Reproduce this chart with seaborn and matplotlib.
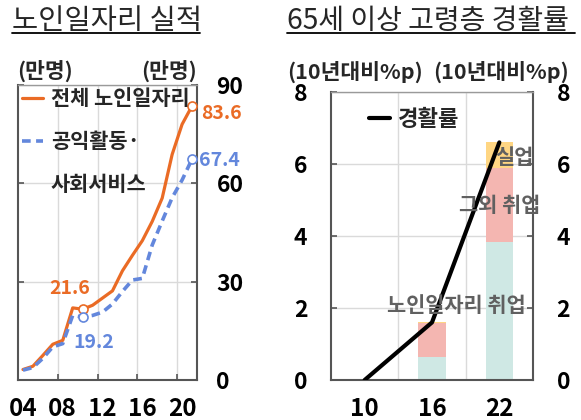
import matplotlib
matplotlib.use("Agg")
import matplotlib.pyplot as plt
from matplotlib.lines import Line2D
import pandas as pd
import seaborn as sns

# ---- data -----------------------------------------------------------------
years = [f"{y:02d}" for y in range(4, 22)]           # 2004 .. 2021
year_ticks = ["04", "08", "12", "16", "20"]
total_jobs = [3.2, 4.2, 7.5, 10.9, 12.1, 22.0, 21.6, 22.8, 25.0, 27.2,
              33.3, 38.0, 42.5, 48.4, 55.5, 68.8, 78.0, 83.6]
public_jobs = [3.0, 3.8, 6.6, 10.1, 11.1, 19.7, 19.2, 19.7, 20.7, 23.2,
               27.0, 30.5, 31.0, 41.2, 48.5, 55.6, 61.0, 67.4]

periods = ["10", "16", "22"]
senior_jobs = [0.0, 0.63, 3.84]      # 노인일자리 취업
other_jobs = [0.0, 0.94, 2.06]       # 그외 취업
unemployed = [0.0, 0.03, 0.70]       # 실업
participation = [0.0, 1.6, 6.6]      # 경활률 (10년대비 %p)

# ---- style ----------------------------------------------------------------
sns.set_theme(style="white")
plt.rcParams["font.family"] = ["Noto Sans CJK KR", "DejaVu Sans"]
plt.rcParams["axes.unicode_minus"] = False

ORANGE = "#EA6B25"
BLUE = "#6387DC"
TEAL = "#CFE8E4"
PINK = "#F4B6B1"
YELLOW = "#FFD683"
GRID = "#DADADA"
SPINE = "#555555"
NOTE = "#606060"

W, H = 581, 420
fig = plt.figure(figsize=(W / 100, H / 100), dpi=100)


def fx(px):
    return px / W


def fy(py):
    return 1 - py / H


ax1 = fig.add_axes([fx(18), fy(380), fx(197) - fx(18), fy(85) - fy(380)])
ax2 = fig.add_axes([fx(331), fy(380), fx(533) - fx(331), fy(92) - fy(380)])

# ---- left panel: 노인일자리 실적 --------------------------------------------
jobs = pd.DataFrame({"pos": range(len(years)), "total": total_jobs,
                     "public": public_jobs})
sns.lineplot(data=jobs, x="pos", y="total", ax=ax1, color=ORANGE,
             linewidth=2.3, zorder=3)
sns.lineplot(data=jobs, x="pos", y="public", ax=ax1, color=BLUE,
             linewidth=2.6, dashes=False, zorder=3)
ax1.lines[-1].set_dashes((2.4, 1.5))

for series, col, idx in [(total_jobs, ORANGE, 6), (total_jobs, ORANGE, 17),
                         (public_jobs, BLUE, 6), (public_jobs, BLUE, 17)]:
    ax1.plot(idx, series[idx], "o", ms=6.5, mfc="white", mec=col, mew=1.2,
             zorder=4)

lab_kw = dict(textcoords="offset pixels", fontsize=14, fontweight="bold")
ax1.annotate(f"{total_jobs[6]}", (6, total_jobs[6]), xytext=(-13, 21),
             ha="center", va="center", color=ORANGE, **lab_kw)
ax1.annotate(f"{public_jobs[6]}", (6, public_jobs[6]), xytext=(11, -25),
             ha="center", va="center", color=BLUE, **lab_kw)
ax1.annotate(f"{total_jobs[17]}", (17, total_jobs[17]), xytext=(9, -8),
             ha="left", va="center", color=ORANGE, **lab_kw)
ax1.annotate(f"{public_jobs[17]}", (17, public_jobs[17]), xytext=(7, -1),
             ha="left", va="center", color=BLUE, **lab_kw)

ax1.set_xlim(-0.5, len(years) - 0.5)
ax1.set_ylim(0, 90)
ax1.set_xticks([years.index(t) for t in year_ticks])
ax1.set_xticklabels(year_ticks)
ax1.set_xticks([3.5, 7.5, 11.5, 15.5], minor=True)
ax1.set_yticks([0, 30, 60, 90])
ax1.set_xlabel("")
ax1.set_ylabel("")
ax1.tick_params(axis="x", which="major", length=0, pad=12, labelsize=17.5)
ax1.tick_params(axis="x", which="minor", direction="in", length=4,
                color=SPINE, width=1.2, bottom=True)
ax1.tick_params(axis="y", which="major", direction="in", length=4,
                color=SPINE, width=1.2, left=True, right=True,
                labelleft=False, labelright=True, pad=14, labelsize=16.5)
ax1.grid(axis="x", which="minor", color=GRID, lw=1)
ax1.grid(axis="y", which="major", color=GRID, lw=1)
ax1.set_axisbelow(True)

h1 = Line2D([], [], color=ORANGE, lw=2.3)
h2 = Line2D([], [], color=BLUE, lw=2.6, dashes=(2.4, 1.5))
h3 = Line2D([], [], color="none")
ax1.legend([h1, h2, h3], ["전체 노인일자리", "공익활동·", "사회서비스"],
           loc="upper left", bbox_to_anchor=(0.02, 0.99), frameon=False,
           handlelength=1.05, handletextpad=0.35,
           labelspacing=1.05, borderaxespad=0, borderpad=0,
           prop={"weight": "bold", "size": 15})

# ---- right panel: 65세 이상 고령층 경활률 ------------------------------------
cum3 = [a + b + c for a, b, c in zip(senior_jobs, other_jobs, unemployed)]
cum2 = [a + b for a, b in zip(senior_jobs, other_jobs)]
for vals, col in [(cum3, YELLOW), (cum2, PINK), (senior_jobs, TEAL)]:
    sns.barplot(x=periods, y=vals, ax=ax2, color=col, width=0.41,
                linewidth=0, saturation=1, zorder=2)

sns.lineplot(x=range(len(periods)), y=participation, ax=ax2, color="black",
             linewidth=3.0, zorder=4, label="경활률")

note_kw = dict(color=NOTE, fontsize=15, fontweight="bold", ha="center",
               va="center", zorder=5)
ax2.text(1.36, 2.08, "노인일자리 취업", **note_kw)
ax2.text(2.0, 4.86, "그외 취업", **note_kw)
ax2.text(2.23, 6.19, "실업", **note_kw)

ax2.set_xlim(-0.5, 2.5)
ax2.set_ylim(0, 8)
ax2.set_yticks([0, 2, 4, 6, 8])
ax2.set_xticks([0.5, 1.5], minor=True)
ax2.set_xlabel("")
ax2.set_ylabel("")
ax2.tick_params(axis="x", which="major", length=0, pad=12, labelsize=17.5)
ax2.tick_params(axis="x", which="minor", length=0)
ax2.tick_params(axis="y", which="major", direction="in", length=4,
                color=SPINE, width=1.2, left=True, right=True,
                labelleft=True, labelright=True, pad=17, labelsize=16.5)
ax2.grid(axis="x", which="minor", color=GRID, lw=1)
ax2.grid(axis="y", which="major", color=GRID, lw=1)
ax2.set_axisbelow(True)
ax2.legend(loc="upper left", bbox_to_anchor=(0.19, 0.945), frameon=False,
           handlelength=0.95, handletextpad=0.35, borderaxespad=0,
           borderpad=0, prop={"weight": "bold", "size": 16})

for ax in (ax1, ax2):
    for side in ("left", "right", "bottom"):
        ax.spines[side].set_color(SPINE)
        ax.spines[side].set_linewidth(1.5)
    ax.spines["top"].set_color("#9A9A9A")
    ax.spines["top"].set_linewidth(1.0)
    for lbl in ax.get_xticklabels() + ax.get_yticklabels():
        lbl.set_fontweight("bold")
        lbl.set_color("black")

# ---- titles and units ------------------------------------------------------
fig.text(fx(12), fy(21), "노인일자리 실적", fontsize=20.5, ha="left",
         va="center", fontweight="medium")
fig.add_artist(Line2D([fx(12), fx(200)], [fy(32.5), fy(32.5)],
                      color="black", lw=1.3))
fig.text(fx(287), fy(21), "65세 이상 고령층 경활률", fontsize=20.2,
         ha="left", va="center", fontweight="medium")
fig.add_artist(Line2D([fx(287), fx(575)], [fy(32.5), fy(32.5)],
                      color="black", lw=1.3))

unit_kw = dict(fontsize=15.5, fontweight="bold", va="center")
fig.text(fx(17), fy(71), "(만명)", ha="left", **unit_kw)
fig.text(fx(197), fy(71), "(만명)", ha="right", **unit_kw)
fig.text(fx(287), fy(72), "(10년대비%p)", ha="left", **unit_kw)
fig.text(fx(569), fy(72), "(10년대비%p)", ha="right", **unit_kw)

fig.savefig("out.png", dpi=100)
